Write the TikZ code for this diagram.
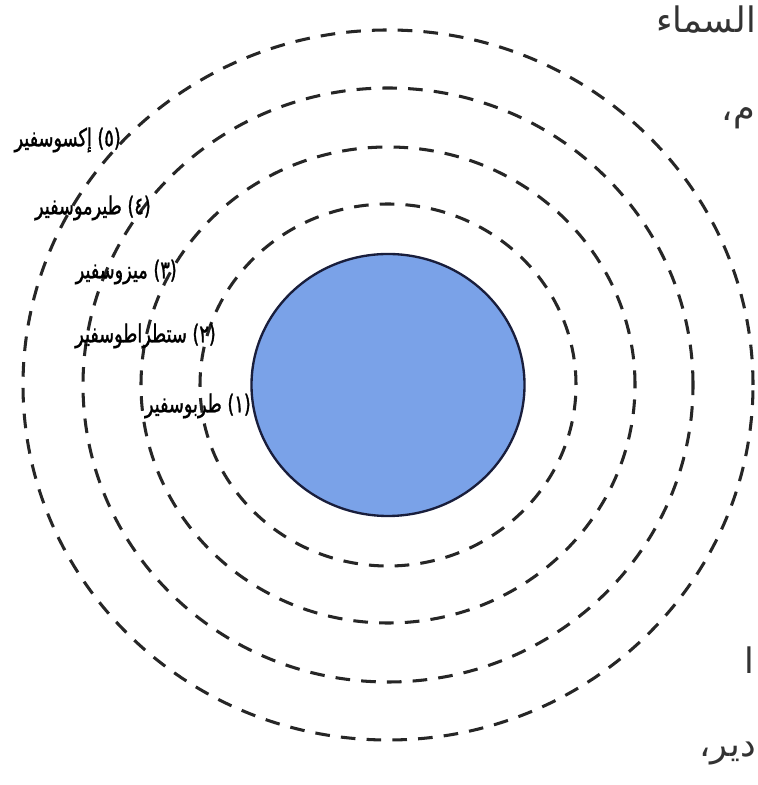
\documentclass[tikz,border=0pt]{standalone}
\usepackage{fontspec}
\newfontfamily\arabicfont[Script=Arabic]{DejaVu Sans}
\newfontfamily\arabiccond[Script=Arabic,FakeStretch=0.72,FakeBold=1.2]{DejaVu Sans}
\TeXXeTstate=1
\usepackage{xcolor}
\usepackage{tikz}
\usetikzlibrary{shapes.geometric, positioning}

\definecolor{earthblue}{RGB}{122,162,232}
\definecolor{earthline}{RGB}{25,30,60}

\begin{document}
\begin{tikzpicture}[
    x=0.3mm, y=0.3mm,
    earth/.style={ellipse, draw=earthline, line width=2pt, fill=earthblue, minimum width=81.9mm, minimum height=78.6mm, inner sep=0pt},
    ring/.style={line width=2.6pt, dash pattern=on 12.5pt off 9.5pt, black!85},
    lbl/.style={anchor=east, inner sep=0pt, font=\arabiccond\fontsize{21}{23}\selectfont},
    pg/.style={anchor=east, inner sep=0pt, font=\arabicfont\fontsize{30}{33}\selectfont, black!80}
]
\useasboundingbox (0,0) rectangle (757,785);
\fill[white] (0,0) rectangle (757,785);
\node[earth] (earth) at (388,400) {};
\draw[ring] (earth.center) ellipse (188 and 181);
\draw[ring] (earth.center) ellipse (247 and 238);
\draw[ring] (earth.center) ellipse (305 and 297);
\draw[ring] (earth.center) ellipse (365 and 355);
% layer names
\node[lbl] (l1) at (251,379) {\beginR(١) طربوسفير\endR};
\node[lbl] (l2) at (216,449) {\beginR(٢) ستطراطوسفير\endR};
\node[lbl] (l3) at (177,513) {\beginR(٣) ميزوسفير\endR};
\node[lbl] (l4) at (151,577) {\beginR(٤) طيرموسفير\endR};
\node[lbl] (l5) at (121,645) {\beginR(٥) إكسوسفير\endR};
% page text at the right
\node[pg] (p1) at (756,765) {\beginR السماء\endR};
\node[pg] (p2) at (755,667) {\beginR م،\endR};
\node[pg] (p3) at (754,125) {\beginR ا\endR};
\node[pg] (p4) at (756,32) {\beginR دير،\endR};
\end{tikzpicture}
\end{document}
